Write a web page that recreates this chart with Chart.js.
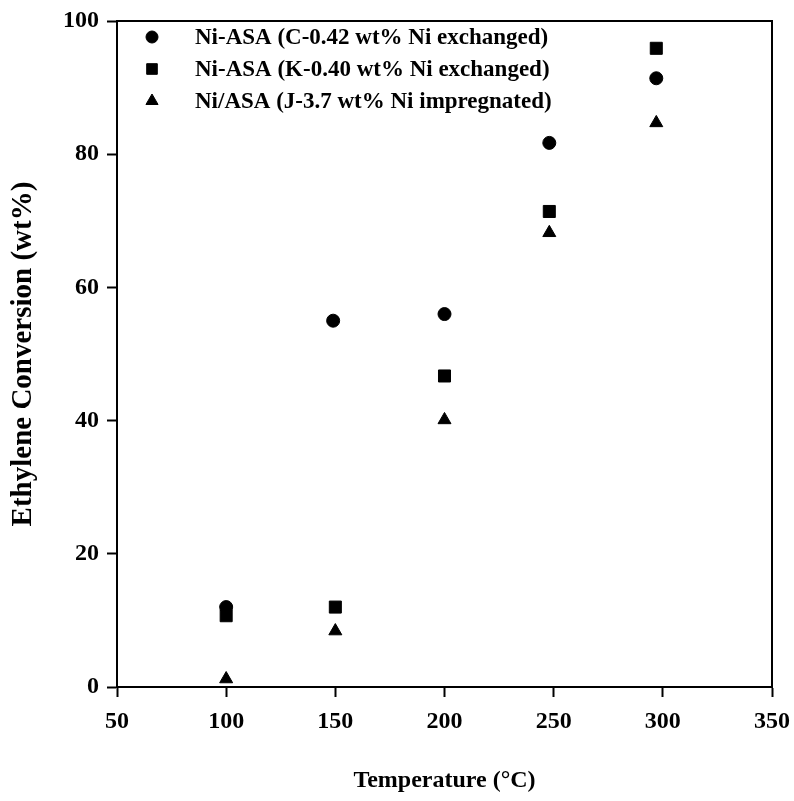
<!DOCTYPE html>
<html>
<head>
<meta charset="utf-8">
<script src="https://cdn.jsdelivr.net/npm/chart.js@4.4.1/dist/chart.umd.min.js"></script>
<style>
  html, body { margin: 0; padding: 0; background: #fff; }
  #wrap { width: 794px; height: 801px; }
</style>
</head>
<body>
<div id="wrap"><canvas id="chart" width="794" height="801"></canvas></div>
<script>
// ── Data ───────────────────────────────────────────────────────────────────
const seriesLabels = [
  'Ni-ASA (C-0.42 wt% Ni exchanged)',
  'Ni-ASA (K-0.40 wt% Ni exchanged)',
  'Ni/ASA (J-3.7 wt% Ni impregnated)',
];
const tempC = [100, 149, 200, 248, 297];
const tempK = [100, 150, 200, 248, 297];
const tempJ = [100, 150, 200, 248, 297];
const convC = [12.0, 55.0, 56.0, 81.7, 91.4];
const convK = [10.7, 12.0, 46.7, 71.4, 95.9];
const convJ = [1.2, 8.4, 40.1, 68.2, 84.7];
const xTicks = [50, 100, 150, 200, 250, 300, 350];
const yTicks = [0, 20, 40, 60, 80, 100];

// ── Styling ────────────────────────────────────────────────────────────────
const FONT_FAMILY = "'Liberation Serif', 'Times New Roman', serif";
const INK = '#000';

function pts(xs, ys) {
  return xs.map((x, i) => ({ x, y: ys[i] }));
}

// box round the plot
const framePlugin = {
  id: 'frame',
  afterDraw(chart) {
    const { ctx, chartArea: a } = chart;
    ctx.save();
    ctx.strokeStyle = INK;
    ctx.lineWidth = 2;
    ctx.strokeRect(a.left, a.top, a.right - a.left, a.bottom - a.top);
    ctx.restore();
  },
};

// legend drawn inside the plot, top-left
const legendPlugin = {
  id: 'insideLegend',
  afterDatasetsDraw(chart) {
    const { ctx, chartArea: a } = chart;
    ctx.save();
    ctx.font = `bold 23px ${FONT_FAMILY}`;
    ctx.textBaseline = 'middle';
    chart.data.datasets.forEach((ds, i) => {
      const y = a.top + 16 + i * 32;
      ctx.fillStyle = INK;
      ctx.strokeStyle = INK;
      ctx.lineWidth = 1;
      Chart.helpers.drawPoint(ctx, {
        pointStyle: ds.pointStyle,
        radius: ds.legendRadius,
        borderWidth: 1,
      }, a.left + 35, y);
      ctx.fillText(seriesLabels[i], a.left + 78, y + 1);
    });
    ctx.restore();
  },
};

const noPad = (s) => { s.paddingLeft = 0; s.paddingRight = 0; s.paddingTop = 0; s.paddingBottom = 0; };

new Chart(document.getElementById('chart'), {
  type: 'scatter',
  data: {
    datasets: [
      { label: seriesLabels[0], data: pts(tempC, convC), pointStyle: 'circle', pointRadius: 6.5, legendRadius: 6 },
      { label: seriesLabels[1], data: pts(tempK, convK), pointStyle: 'rect', pointRadius: 8.5, legendRadius: 7.5 },
      { label: seriesLabels[2], data: pts(tempJ, convJ), pointStyle: 'triangle', pointRadius: 7.5, legendRadius: 7 },
    ].map(ds => ({
      ...ds,
      backgroundColor: INK,
      borderColor: INK,
      borderWidth: 1,
      showLine: false,
    })),
  },
  options: {
    responsive: false,
    animation: false,
    layout: { padding: { top: 21, right: 22, left: 0, bottom: 0 } },
    plugins: {
      legend: { display: false },
      tooltip: { enabled: false },
    },
    scales: {
      x: {
        type: 'linear',
        min: 50,
        max: 350,
        afterBuildTicks: (s) => { s.ticks = xTicks.map(v => ({ value: v })); },
        afterFit: (s) => { s.height = 114; noPad(s); },
        grid: { drawOnChartArea: false, tickLength: 10, tickColor: INK, tickWidth: 2 },
        border: { display: true, color: INK, width: 2 },
        ticks: { color: INK, padding: 10, font: { family: FONT_FAMILY, size: 24, weight: 'bold' } },
        title: {
          display: true,
          text: 'Temperature (°C)',
          color: INK,
          padding: { top: 30, bottom: 6 },
          font: { family: FONT_FAMILY, size: 24, weight: 'bold' },
        },
      },
      y: {
        type: 'linear',
        min: 0,
        max: 100,
        afterBuildTicks: (s) => { s.ticks = yTicks.map(v => ({ value: v })); },
        afterFit: (s) => { s.width = 117; noPad(s); },
        grid: { drawOnChartArea: false, tickLength: 10, tickColor: INK, tickWidth: 2 },
        border: { display: true, color: INK, width: 2 },
        ticks: { color: INK, padding: 8, font: { family: FONT_FAMILY, size: 24, weight: 'bold' } },
        title: {
          display: true,
          text: 'Ethylene Conversion (wt%)',
          color: INK,
          padding: { top: 6, bottom: 24 },
          font: { family: FONT_FAMILY, size: 29, weight: 'bold' },
        },
      },
    },
  },
  plugins: [framePlugin, legendPlugin],
});
</script>
</body>
</html>
